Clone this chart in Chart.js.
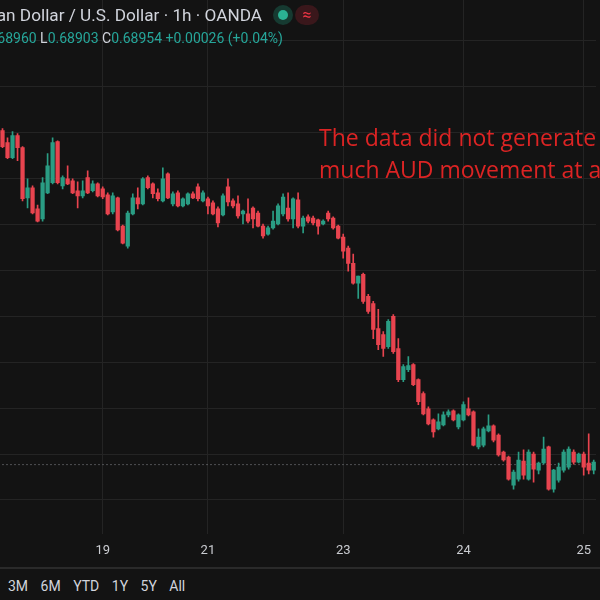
<!DOCTYPE html>
<html>
<head>
<meta charset="utf-8">
<script src="https://cdn.jsdelivr.net/npm/chart.js@4.4.1/dist/chart.umd.min.js"></script>
<style>
  html, body { margin: 0; padding: 0; width: 600px; height: 600px; overflow: hidden; background: #131313; font-family: Roboto, sans-serif; }
  #wrap { position: absolute; left: 0; top: 0; width: 600px; height: 568px; }
  #sep { position: absolute; left: 0; top: 567px; width: 600px; height: 2px; background: #2a2a2a; }
  .title { position: absolute; right: 338px; top: 5px; line-height: 20px; white-space: nowrap; color: #d1d4dc; font-size: 17.2px; }
  .ohlc { position: absolute; right: 317px; top: 29px; line-height: 18px; white-space: nowrap; color: #26a69a; font-size: 14px; }
  .ohlc b { font-weight: normal; color: #d1d4dc; }
  .pill { position: absolute; top: 5px; height: 20px; border-radius: 10px; }
  .note { position: absolute; left: 319px; top: 121px; line-height: 32px; white-space: nowrap; color: #dc2424; font-family: "Open Sans", sans-serif; font-size: 23px; }
  .tools { position: absolute; left: 8px; top: 578px; line-height: 16px; font-size: 14px; color: #d1d4dc; white-space: nowrap; }
  .tools span { margin-right: 12.5px; }
</style>
</head>
<body>
<div id="wrap"><canvas id="chart"></canvas></div>
<div class="title">Australian Dollar / U.S. Dollar · 1h · OANDA</div>
<div class="ohlc"><b>O</b>0.68928 <b>H</b>0.68960 <b>L</b>0.68903 <b>C</b>0.68954 +0.00026 (+0.04%)</div>
<div class="pill" style="left:273px;width:20px;background:#163a31;"><div style="position:absolute;left:5px;top:5px;width:10px;height:10px;border-radius:5px;background:#2bb193;"></div></div>
<div class="pill" style="left:295px;width:24px;background:#3a171b;color:#f23645;font-size:16px;line-height:20px;text-align:center;">≈</div>
<div class="note">The data did not generate<br>much AUD movement at all</div>
<div id="sep"></div>
<div class="tools"><span>3M</span><span>6M</span><span>YTD</span><span>1Y</span><span>5Y</span><span>All</span></div>
<script>
// AUD/USD 1h candles
const opens = [0.70409,0.70357,0.70291,0.70387,0.70335,0.70116,0.70160,0.70068,0.70024,0.70138,
  0.70182,0.70361,0.70168,0.70199,0.70190,0.70147,0.70125,0.70204,0.70147,0.70177,
  0.70155,0.70129,0.70055,0.70116,0.69993,0.69906,0.70046,0.70116,0.70090,0.70204,
  0.70177,0.70138,0.70103,0.70221,0.70090,0.70138,0.70081,0.70090,0.70134,0.70164,
  0.70103,0.70112,0.70094,0.70068,0.70042,0.70164,0.70103,0.70090,0.70046,0.70046,
  0.70072,0.70050,0.69993,0.69958,0.69985,0.70002,0.70046,0.70072,0.70024,0.70107,
  0.69993,0.70033,0.70028,0.70020,0.70002,0.70050,0.70028,0.69993,0.69945,0.69897,
  0.69831,0.69744,0.69783,0.69687,0.69656,0.69547,0.69521,0.69468,0.69600,0.69460,
  0.69324,0.69368,0.69390,0.69324,0.69263,0.69197,0.69149,0.69110,0.69127,0.69171,
  0.69188,0.69118,0.69149,0.69197,0.69184,0.69031,0.69039,0.69101,0.69123,0.69083,
  0.69009,0.68987,0.68864,0.68891,0.68969,0.68891,0.69000,0.68930,0.68961,0.69031,
  0.68847,0.68886,0.68930,0.68943,0.69009,0.68965,0.69000,0.68961,0.68930];
const highs = [0.70418,0.70378,0.70405,0.70396,0.70339,0.70199,0.70168,0.70085,0.70204,0.70309,
  0.70378,0.70365,0.70212,0.70256,0.70199,0.70186,0.70190,0.70234,0.70190,0.70182,
  0.70164,0.70138,0.70138,0.70120,0.69998,0.70059,0.70134,0.70160,0.70204,0.70212,
  0.70182,0.70155,0.70247,0.70225,0.70142,0.70147,0.70116,0.70138,0.70142,0.70177,
  0.70147,0.70120,0.70103,0.70077,0.70134,0.70199,0.70112,0.70125,0.70063,0.70112,
  0.70077,0.70059,0.70002,0.69993,0.70059,0.70090,0.70134,0.70138,0.70116,0.70138,
  0.70037,0.70042,0.70037,0.70024,0.70020,0.70059,0.70033,0.69998,0.69958,0.69906,
  0.69871,0.69775,0.69788,0.69696,0.69665,0.69630,0.69534,0.69586,0.69608,0.69503,
  0.69390,0.69425,0.69394,0.69328,0.69271,0.69206,0.69153,0.69175,0.69184,0.69193,
  0.69193,0.69175,0.69228,0.69245,0.69188,0.69110,0.69118,0.69171,0.69127,0.69088,
  0.69013,0.68991,0.68930,0.69009,0.69018,0.69018,0.69009,0.68965,0.69074,0.69035,
  0.68934,0.68961,0.69018,0.69031,0.69018,0.69004,0.69009,0.69088,0.68974];
const lows = [0.70335,0.70287,0.70287,0.70278,0.70103,0.70072,0.70046,0.70011,0.70015,0.70134,
  0.70177,0.70177,0.70155,0.70173,0.70134,0.70072,0.70116,0.70134,0.70142,0.70120,
  0.70112,0.70042,0.70046,0.69972,0.69915,0.69897,0.70042,0.70068,0.70085,0.70155,
  0.70116,0.70103,0.70098,0.70112,0.70081,0.70077,0.70077,0.70085,0.70112,0.70103,
  0.70098,0.70046,0.70042,0.69989,0.70037,0.70081,0.70072,0.70028,0.70002,0.70007,
  0.69985,0.69989,0.69941,0.69954,0.69980,0.69998,0.70037,0.70015,0.69985,0.69985,
  0.69963,0.70007,0.69998,0.69958,0.69998,0.70015,0.69980,0.69937,0.69853,0.69797,
  0.69740,0.69678,0.69656,0.69613,0.69503,0.69455,0.69425,0.69460,0.69438,0.69315,
  0.69315,0.69359,0.69298,0.69215,0.69171,0.69127,0.69074,0.69105,0.69123,0.69162,
  0.69144,0.69110,0.69144,0.69166,0.69035,0.69022,0.69031,0.69096,0.69053,0.68991,
  0.68969,0.68886,0.68847,0.68882,0.68891,0.68886,0.68878,0.68913,0.68956,0.68843,
  0.68834,0.68878,0.68921,0.68934,0.68956,0.68961,0.68908,0.68913,0.68913];
const closes = [0.70339,0.70291,0.70387,0.70335,0.70112,0.70160,0.70050,0.70015,0.70182,0.70256,
  0.70357,0.70182,0.70204,0.70177,0.70138,0.70125,0.70147,0.70138,0.70177,0.70125,
  0.70120,0.70046,0.70125,0.69976,0.69919,0.70050,0.70116,0.70090,0.70199,0.70160,
  0.70134,0.70112,0.70199,0.70116,0.70134,0.70081,0.70112,0.70134,0.70116,0.70112,
  0.70138,0.70081,0.70046,0.70007,0.70125,0.70098,0.70081,0.70037,0.70059,0.70015,
  0.70024,0.69993,0.69950,0.69985,0.70015,0.70081,0.70120,0.70024,0.70112,0.69993,
  0.70028,0.70015,0.70007,0.69993,0.70015,0.70024,0.69985,0.69941,0.69884,0.69831,
  0.69744,0.69775,0.69665,0.69621,0.69543,0.69477,0.69460,0.69578,0.69446,0.69324,
  0.69381,0.69385,0.69302,0.69228,0.69175,0.69131,0.69096,0.69140,0.69171,0.69184,
  0.69149,0.69171,0.69215,0.69171,0.69039,0.69074,0.69110,0.69123,0.69061,0.68996,
  0.68974,0.68891,0.68921,0.68974,0.68908,0.69009,0.68934,0.68961,0.69022,0.68847,
  0.68930,0.68943,0.69009,0.69022,0.68965,0.69000,0.68943,0.68930,0.68965];

const lastClose = 0.68954;

// time axis: candle index -> day label
const tickIndex = [20, 41, 68, 92, 116];
const tickText = ["19", "21", "23", "24", "25"];

// price grid
const gridValues = [0.688, 0.690, 0.692, 0.694, 0.696, 0.698, 0.700, 0.702, 0.704, 0.706, 0.708];
const yMin = 0.68650;
const yMax = 0.70978;

const upColor = "#2a9d84";
const downColor = "#e8444f";
const gridColor = "#242424";

const hours = opens.map((_, i) => i);
const candleColors = opens.map((o, i) => (closes[i] >= o ? upColor : downColor));

const ctx = document.getElementById("chart").getContext("2d");

new Chart(ctx, {
  type: "bar",
  data: {
    labels: hours,
    datasets: [
      {
        type: "line",
        data: hours.map(() => lastClose),
        borderColor: "#8c8f96",
        borderWidth: 1,
        borderDash: [1, 3],
        pointRadius: 0,
        order: 3,
      },
      {
        data: lows.map((l, i) => [l, highs[i]]),
        backgroundColor: candleColors,
        barThickness: 1,
        grouped: false,
        order: 2,
      },
      {
        data: opens.map((o, i) => [o, closes[i]]),
        backgroundColor: candleColors,
        barThickness: 3.6,
        grouped: false,
        order: 1,
      },
    ],
  },
  options: {
    responsive: true,
    maintainAspectRatio: false,
    animation: false,
    layout: { padding: { left: 0, right: 0, top: 0, bottom: 0 } },
    plugins: { legend: { display: false }, tooltip: { enabled: false } },
    scales: {
      x: {
        offset: true,
        border: { display: false },
        grid: { color: gridColor, offset: false, drawTicks: false },
        afterBuildTicks: (axis) => {
          axis.ticks = tickIndex.map((v) => ({ value: v }));
        },
        ticks: {
          autoSkip: false,
          maxRotation: 0,
          padding: 9,
          color: "#c9cbd0",
          font: { family: "Roboto", size: 13 },
          callback: (val) => tickText[tickIndex.indexOf(val)],
        },
      },
      y: {
        position: "right",
        min: yMin,
        max: yMax,
        border: { display: false },
        grid: { color: gridColor, drawTicks: false },
        afterBuildTicks: (axis) => {
          axis.ticks = gridValues.map((v) => ({ value: v }));
        },
        ticks: { display: false },
      },
    },
  },
});
</script>
</body>
</html>
